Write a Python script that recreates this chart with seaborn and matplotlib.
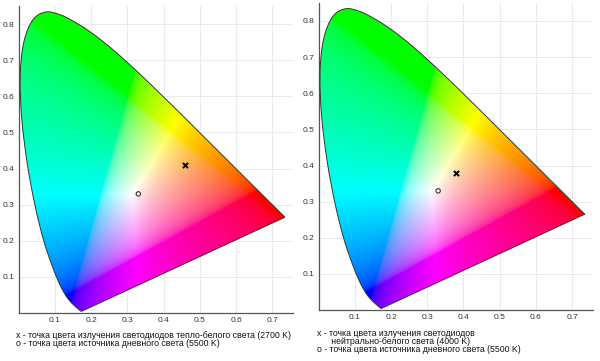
import numpy as np
import matplotlib
matplotlib.use("Agg")
import matplotlib.pyplot as plt
import seaborn as sns
from matplotlib.path import Path
from matplotlib.patches import PathPatch

# CIE 1931 2-degree spectral locus, 380..700 nm every 5 nm
locus_x = [0.1741, 0.1740, 0.1738, 0.1736, 0.1733, 0.1730, 0.1726, 0.1721, 0.1714, 0.1703,
           0.1689, 0.1669, 0.1644, 0.1611, 0.1566, 0.1510, 0.1440, 0.1355, 0.1241, 0.1096,
           0.0913, 0.0687, 0.0454, 0.0235, 0.0082, 0.0039, 0.0139, 0.0389, 0.0743, 0.1142,
           0.1547, 0.1929, 0.2296, 0.2658, 0.3016, 0.3373, 0.3731, 0.4087, 0.4441, 0.4788,
           0.5125, 0.5448, 0.5752, 0.6029, 0.6270, 0.6482, 0.6658, 0.6801, 0.6915, 0.7006,
           0.7079, 0.7140, 0.7190, 0.7230, 0.7260, 0.7283, 0.7300, 0.7311, 0.7320, 0.7327,
           0.7334, 0.7340, 0.7344, 0.7346, 0.7347]
locus_y = [0.0050, 0.0050, 0.0049, 0.0049, 0.0048, 0.0048, 0.0048, 0.0048, 0.0051, 0.0058,
           0.0069, 0.0086, 0.0109, 0.0138, 0.0177, 0.0227, 0.0297, 0.0399, 0.0578, 0.0868,
           0.1327, 0.2007, 0.2950, 0.4127, 0.5384, 0.6548, 0.7502, 0.8120, 0.8338, 0.8262,
           0.8059, 0.7816, 0.7543, 0.7243, 0.6923, 0.6589, 0.6245, 0.5896, 0.5547, 0.5202,
           0.4866, 0.4544, 0.4242, 0.3965, 0.3725, 0.3514, 0.3340, 0.3197, 0.3083, 0.2993,
           0.2920, 0.2859, 0.2809, 0.2770, 0.2740, 0.2717, 0.2700, 0.2689, 0.2680, 0.2673,
           0.2666, 0.2660, 0.2656, 0.2654, 0.2653]

# measured points (x, y)
led_warm = (0.46, 0.41)      # 2700 K
led_neutral = (0.38, 0.38)   # 4000 K
daylight = (0.33, 0.33)      # 5500 K

x_ticks = [0.1, 0.2, 0.3, 0.4, 0.5, 0.6, 0.7]
y_ticks = [0.1, 0.2, 0.3, 0.4, 0.5, 0.6, 0.7, 0.8]

text_left = ["x - точка цвета излучения светодиодов тепло-белого света (2700 K)",
             "o - точка цвета источника дневного света (5500 K)"]
text_right = ["x - точка цвета излучения светодиодов",
              "      нейтрально-белого света (4000 K)",
              "o - точка цвета источника дневного света (5500 K)"]

sns.set_style("white")
plt.rcParams['font.family'] = ['Liberation Sans', 'DejaVu Sans']

XLIM = (0, 0.757)
YLIM = (0, 0.85)


def chroma_image(n=500):
    xs = np.linspace(XLIM[0], XLIM[1], n)
    ys = np.linspace(YLIM[0], YLIM[1], n)
    gx, gy = np.meshgrid(xs, ys)
    gy = np.maximum(gy, 1e-4)
    X = gx / gy
    Y = np.ones_like(gx)
    Z = (1 - gx - gy) / gy
    M = np.array([[3.2406, -1.5372, -0.4986],
                  [-0.9689, 1.8758, 0.0415],
                  [0.0557, -0.2040, 1.0570]])
    rgb = np.stack([X, Y, Z], axis=-1) @ M.T
    rgb = np.clip(rgb, 0, None)
    rgb = rgb / np.maximum(rgb.max(axis=-1, keepdims=True), 1e-9)
    rgb = np.where(rgb <= 0.0031308, 12.92 * rgb, 1.055 * rgb ** (1 / 2.4) - 0.055)
    return np.clip(rgb, 0, 1) ** 0.85


def locus_path():
    # smooth curve through the locus points (Catmull-Rom as cubic Bezier), straight purple line
    p = np.column_stack([locus_x, locus_y])
    verts = [p[0]]
    codes = [Path.MOVETO]
    for i in range(len(p) - 1):
        p0 = p[max(i - 1, 0)]
        p1, p2 = p[i], p[i + 1]
        p3 = p[min(i + 2, len(p) - 1)]
        verts += [p1 + (p2 - p0) / 6, p2 - (p3 - p1) / 6, p2]
        codes += [Path.CURVE4] * 3
    verts += [p[0], p[0]]
    codes += [Path.LINETO, Path.CLOSEPOLY]
    return Path(verts, codes)


img = chroma_image()


def draw_panel(ax, led_point):
    ax.set_xlim(*XLIM)
    ax.set_ylim(*YLIM)
    ax.set_xticks(x_ticks)
    ax.set_yticks(y_ticks)
    ax.set_xticklabels([f"{t:.1f}" for t in x_ticks])
    ax.set_yticklabels([f"{t:.1f}" for t in y_ticks])
    ax.grid(True, color="#e6e6e6", linewidth=0.6)
    ax.set_axisbelow(True)
    for s in ["top", "right"]:
        ax.spines[s].set_visible(False)
    for s in ["left", "bottom"]:
        ax.spines[s].set_color("#555555")
        ax.spines[s].set_linewidth(0.9)
    ax.tick_params(direction="in", length=2.5, width=0.7, colors="#555555",
                   labelsize=6, labelcolor="#333333", pad=3)

    im = ax.imshow(img, origin="lower", extent=(XLIM[0], XLIM[1], YLIM[0], YLIM[1]),
                   aspect="auto", interpolation="bilinear", zorder=2)
    outline = PathPatch(locus_path(), facecolor="none", edgecolor="#2f3a2a",
                        linewidth=0.7, zorder=3)
    ax.add_patch(outline)
    im.set_clip_path(outline)

    sns.scatterplot(x=[led_point[0]], y=[led_point[1]], marker="x", color="black",
                    s=14, linewidth=1.4, ax=ax, zorder=4)
    sns.scatterplot(x=[daylight[0]], y=[daylight[1]], marker="o", facecolor="none",
                    edgecolor="#222222", s=10, linewidth=0.7, ax=ax, zorder=4)


fig = plt.figure(figsize=(6, 3.61), dpi=100)
ax1 = fig.add_axes([0.0313, 0.133, 0.457, 0.850])
ax2 = fig.add_axes([0.531, 0.141, 0.457, 0.851])
draw_panel(ax1, led_warm)
draw_panel(ax2, led_neutral)

for i, line in enumerate(text_left):
    fig.text(16 / 600, 1 - (335 + i * 9) / 361, line, fontsize=6.3, va="center",
             color="#111111")
for i, line in enumerate(text_right):
    fig.text(317 / 600, 1 - (333 + i * 8.5) / 361, line, fontsize=6.3, va="center",
             color="#111111")

fig.savefig("out.png", dpi=100)
